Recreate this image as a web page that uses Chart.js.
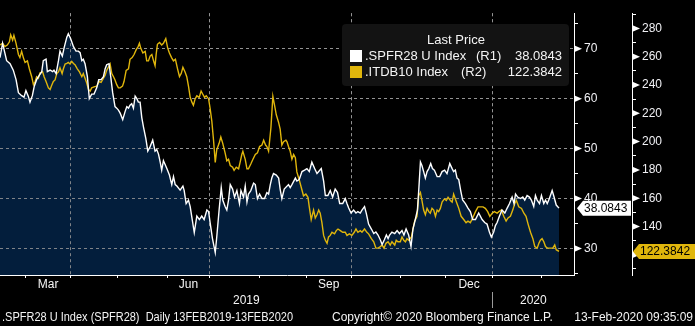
<!DOCTYPE html>
<html>
<head>
<meta charset="utf-8">
<script src="https://cdn.jsdelivr.net/npm/chart.js@4.4.1/dist/chart.umd.min.js"></script>
<style>
  html, body { margin: 0; padding: 0; background: #000; }
  #wrap { width: 695px; height: 326px; }
</style>
</head>
<body>
<div id="wrap"><canvas id="bbChart" width="695" height="326"></canvas></div>
<script>
// weekday index from 13 Feb 2019 (0) to 13 Feb 2020 (261)
const monthStarts = [12, 33, 55, 78, 98, 121, 143, 164, 187, 208, 230, 253];
const quarterLines = [33, 98, 164, 230];
const monthNames = ['Mar', 'Jun', 'Sep', 'Dec'];
const monthSpans = [[12, 33], [78, 98], [143, 164], [208, 230]];
const yearNames = ['2019', '2020'];
const yearSpans = [[0, 230], [230, 268]];

const r1Ticks = [25, 30, 35, 40, 45, 50, 55, 60, 65, 70, 75];
const r2Ticks = [110, 120, 130, 140, 150, 160, 170, 180, 190, 200, 210, 220, 230, 240, 250, 260, 270, 280, 290];

const spfrName = '.SPFR28 U Index';
const itdbName = '.ITDB10 Index';

const spfrDays = [0, 1.2, 3.1, 4.7, 6.2, 7.5, 8.6, 10.1, 11.2, 12.1, 13.2, 14.0, 15.1, 16.0, 17.1, 18.4, 19.5, 20.2, 21.5, 22.1,
  23.4, 24.6, 25.2, 26.2, 27.3, 28.0, 29.1, 29.9, 31.2, 31.9, 33.0, 34.3, 35.5, 36.6, 37.4, 38.2, 38.9, 39.7, 40.8, 41.7,
  42.8, 43.9, 45.2, 46.1, 47.2, 48.3, 49.1, 49.8, 50.9, 51.7, 52.6, 53.7, 54.5, 55.3, 56.1, 57.3, 58.4, 59.2, 60.0, 60.7,
  61.5, 62.3, 63.1, 63.9, 64.6, 65.4, 66.2, 67.0, 68.1, 69.0, 70.1, 71.3, 72.4, 73.2, 74.0, 74.8, 75.5, 76.3, 77.9, 79.1,
  80.2, 81.0, 81.8, 82.6, 84.1, 85.4, 86.0, 86.9, 88.0, 88.8, 89.6, 90.7, 91.9, 93.1, 94.2, 95.3, 96.6, 97.4, 98.1, 99.2,
  100.5, 101.2, 102.3, 103.3, 104.0, 105.1, 105.9, 106.7, 107.5, 108.6, 109.5, 110.6, 111.8, 112.5, 113.7, 114.5, 115.3, 116.0, 117.1, 118.4,
  119.2, 120.2, 121.2, 122.3, 123.5, 124.6, 125.4, 126.2, 126.9, 127.7, 129.0, 130.1, 130.8, 131.6, 132.7, 134.7, 135.5, 136.3, 137.9, 138.6,
  139.7, 141.0, 142.2, 143.3, 144.4, 145.6, 146.9, 148.0, 148.8, 150.0, 151.1, 151.9, 153.1, 154.2, 155.3, 156.5, 157.6, 158.6, 160.0, 161.2,
  162.0, 162.8, 163.9, 165.1, 166.2, 167.1, 168.2, 169.0, 170.2, 171.0, 172.1, 173.4, 174.5, 175.5, 176.5, 177.6, 178.4, 179.4, 180.4, 181.2,
  181.9, 183.0, 184.3, 185.4, 186.5, 187.7, 188.6, 189.6, 190.8, 191.9, 192.8, 193.9, 194.9, 195.5, 196.3, 197.0, 197.8, 198.6, 199.4, 200.2,
  201.1, 201.9, 202.8, 204.1, 205.3, 206.4, 207.6, 208.7, 210.0, 211.1, 211.8, 212.6, 213.4, 214.2, 215.1, 216.0, 217.3, 218.5, 219.6, 220.7,
  222.0, 223.5, 225.1, 226.3, 227.4, 228.5, 229.4, 230.5, 231.3, 232.1, 233.2, 234.4, 235.7, 236.8, 237.9, 239.1, 240.0, 240.7, 241.7, 243.0,
  244.1, 245.0, 246.1, 247.2, 248.1, 249.2, 250.0, 250.8, 251.9, 252.8, 253.9, 254.7, 255.5, 256.5, 257.8, 258.7, 259.7, 261];
const spfrValues = [68.2, 71.1, 67.6, 67.0, 65.7, 63.8, 61.2, 60.6, 60.3, 61.6, 60.5, 59.3, 60.6, 62.5, 63.8, 64.7, 65.4, 67.6, 67.9, 65.4,
  65.7, 65.4, 65.7, 65.0, 67.6, 69.5, 68.5, 70.1, 72.3, 73.0, 72.0, 70.4, 69.5, 69.5, 69.2, 67.6, 67.9, 67.0, 64.4, 60.0,
  60.9, 60.9, 62.2, 63.8, 63.8, 64.4, 66.0, 66.8, 67.0, 64.4, 61.2, 58.4, 58.1, 57.7, 57.1, 55.8, 57.4, 58.4, 58.1, 58.7,
  59.0, 58.1, 60.5, 60.0, 59.3, 59.3, 56.2, 54.3, 52.0, 49.5, 50.4, 51.7, 49.5, 49.8, 48.9, 47.3, 45.7, 47.6, 46.0, 44.7,
  42.8, 44.4, 42.8, 42.5, 41.7, 42.5, 41.6, 39.0, 39.7, 38.4, 36.2, 33.2, 36.5, 35.8, 36.5, 35.8, 37.7, 37.4, 35.2, 32.0,
  29.2, 32.3, 37.7, 42.2, 39.7, 38.4, 37.7, 39.7, 42.8, 41.9, 40.3, 41.6, 39.0, 41.6, 40.3, 42.5, 39.3, 40.9, 41.6, 43.1,
  42.8, 40.0, 40.9, 40.0, 40.0, 41.2, 40.9, 42.8, 44.1, 45.0, 44.7, 44.1, 41.9, 40.0, 41.9, 42.8, 42.2, 42.8, 44.1, 43.5,
  43.8, 45.4, 45.7, 46.0, 45.4, 47.3, 46.0, 45.0, 45.4, 46.0, 43.5, 40.6, 40.6, 41.6, 40.3, 41.9, 41.2, 39.0, 39.0, 40.0,
  39.0, 38.1, 37.1, 37.7, 37.1, 37.4, 37.1, 37.7, 38.4, 37.1, 34.9, 33.9, 33.0, 33.3, 32.7, 31.7, 30.8, 31.7, 32.7, 32.0,
  32.7, 33.3, 33.0, 33.6, 33.0, 33.6, 32.7, 33.9, 32.7, 30.4, 33.9, 35.8, 37.7, 41.6, 47.3, 46.6, 45.4, 44.1, 45.4, 46.0,
  47.0, 46.0, 45.7, 44.4, 44.4, 45.4, 45.7, 45.0, 47.0, 46.0, 45.4, 45.7, 44.1, 43.8, 41.6, 39.7, 39.0, 38.1, 37.4, 35.8,
  35.8, 37.1, 35.8, 35.2, 34.9, 33.3, 32.3, 33.3, 34.6, 35.2, 36.5, 37.7, 37.1, 38.1, 39.0, 40.3, 39.0, 40.9, 40.3, 40.0,
  40.3, 39.7, 40.6, 40.3, 39.7, 38.4, 40.6, 39.7, 39.0, 40.6, 39.0, 39.7, 39.0, 40.0, 41.6, 40.3, 38.7, 38.0843];

const itdbDays = [0, 1.2, 2.3, 3.4, 4.4, 5.0, 5.9, 6.5, 7.5, 8.6, 9.3, 10.1, 10.9, 11.7, 12.8, 13.7, 14.8, 15.6, 16.4, 17.1,
  17.9, 18.7, 19.9, 20.6, 21.5, 22.6, 23.4, 24.1, 24.9, 25.7, 26.5, 27.3, 28.0, 29.0, 29.6, 30.4, 31.2, 31.9, 32.7, 33.5,
  34.3, 35.0, 36.1, 37.1, 38.2, 38.9, 39.7, 40.5, 41.3, 42.1, 42.8, 43.9, 45.2, 46.3, 47.2, 48.3, 49.1, 49.8, 50.6, 51.4,
  52.2, 53.0, 53.7, 54.5, 55.3, 56.1, 57.2, 57.9, 58.9, 60.0, 60.7, 61.7, 62.6, 63.6, 64.5, 65.1, 65.7, 66.7, 67.8, 68.5,
  69.3, 70.1, 70.9, 71.7, 72.4, 72.9, 73.5, 74.5, 75.5, 76.3, 77.4, 78.3, 79.1, 80.1, 81.0, 81.9, 82.9, 83.8, 84.6, 85.4,
  86.4, 87.2, 88.0, 88.8, 89.6, 90.3, 91.1, 91.9, 93.0, 93.9, 94.7, 95.5, 96.3, 97.4, 98.1, 98.9, 99.7, 100.5, 101.2, 102.3,
  103.1, 104.0, 105.1, 105.9, 106.7, 107.5, 108.6, 109.3, 110.3, 111.4, 112.1, 112.9, 113.4, 114.5, 115.3, 116.0, 117.1, 118.1, 119.2, 120.2,
  121.2, 122.3, 123.1, 124.0, 124.6, 125.4, 126.5, 127.4, 128.2, 129.0, 130.1, 130.8, 131.6, 132.4, 133.5, 134.0, 134.7, 135.5, 136.3, 137.1,
  137.9, 138.6, 139.7, 140.7, 141.7, 142.8, 143.8, 144.4, 145.3, 146.4, 147.2, 148.0, 148.8, 149.5, 150.3, 151.1, 151.9, 152.7, 153.4, 154.2,
  155.0, 156.2, 157.0, 157.8, 158.9, 160.0, 161.2, 162.0, 163.1, 164.3, 165.4, 166.2, 167.1, 168.2, 169.0, 170.2, 171.3, 172.1, 173.4, 174.5,
  175.5, 176.5, 177.6, 178.4, 179.3, 180.2, 181.2, 182.2, 183.0, 184.3, 185.0, 185.8, 186.9, 187.7, 188.5, 189.3, 190.0, 190.8, 192.1, 192.8,
  193.6, 194.7, 195.5, 196.3, 197.0, 197.8, 198.6, 199.4, 200.2, 200.9, 201.7, 202.5, 203.3, 204.1, 204.8, 205.6, 206.4, 207.5, 208.4, 209.2,
  210.3, 211.1, 211.8, 212.6, 213.4, 214.2, 215.3, 216.5, 217.6, 218.5, 219.6, 220.7, 222.0, 223.2, 224.3, 225.5, 226.6, 227.7, 228.7, 229.8,
  230.8, 232.1, 232.9, 234.1, 235.2, 236.3, 237.2, 238.3, 239.4, 240.3, 241.1, 242.2, 243.5, 244.6, 245.6, 246.6, 247.7, 248.8, 249.7, 250.8,
  251.6, 252.3, 253.1, 253.9, 254.7, 255.6, 257.0, 258.1, 259.0, 259.7, 261];
const itdbValues = [268.3, 269.5, 267.2, 268.3, 270.6, 275.5, 271.7, 275.1, 269.5, 261.6, 259.4, 263.8, 259.4, 256.0, 257.1, 251.5, 245.9, 240.3, 242.5, 245.9,
  244.8, 248.6, 249.3, 245.9, 242.5, 238.0, 236.9, 239.6, 242.5, 243.6, 248.1, 249.3, 252.2, 248.1, 251.5, 254.9, 255.3, 256.0, 254.9, 256.7,
  255.3, 254.4, 251.5, 249.3, 245.9, 248.1, 244.8, 241.4, 236.9, 235.8, 238.0, 238.7, 239.2, 242.5, 241.9, 244.8, 247.0, 250.4, 252.6, 254.9,
  248.1, 245.9, 243.6, 240.3, 238.0, 238.0, 239.2, 242.5, 250.4, 251.5, 258.2, 259.4, 261.6, 265.0, 267.2, 269.5, 266.1, 262.7, 263.8, 257.1,
  257.1, 260.5, 261.6, 257.1, 253.7, 261.6, 268.8, 270.1, 268.3, 269.5, 272.8, 266.1, 262.7, 259.4, 257.1, 258.2, 251.5, 245.9, 248.1, 252.6,
  249.3, 245.9, 239.2, 231.3, 227.9, 225.7, 230.2, 232.4, 231.3, 235.8, 233.5, 231.3, 232.4, 230.2, 223.5, 214.5, 201.0, 185.3, 194.3, 198.8,
  203.3, 198.8, 192.0, 186.4, 187.5, 183.1, 181.9, 179.7, 181.9, 180.8, 185.3, 190.9, 193.2, 187.5, 180.8, 180.8, 184.2, 187.5, 190.9, 192.0,
  196.5, 197.6, 201.0, 197.6, 196.5, 193.2, 210.0, 232.0, 225.7, 219.0, 213.4, 208.9, 197.6, 199.9, 201.0, 199.9, 196.5, 193.2, 187.5, 190.9,
  188.7, 178.6, 173.0, 167.4, 161.7, 162.9, 160.6, 153.9, 144.9, 151.6, 146.0, 148.3, 151.6, 149.4, 142.7, 133.7, 130.3, 128.1, 132.6, 133.7,
  135.9, 134.8, 137.1, 138.2, 137.1, 135.9, 135.9, 133.7, 134.8, 133.7, 135.9, 138.2, 135.9, 137.1, 135.9, 138.2, 135.9, 134.8, 131.4, 129.2,
  124.7, 124.7, 125.8, 126.9, 124.7, 128.1, 129.2, 126.9, 129.2, 126.9, 130.3, 129.2, 129.2, 132.6, 130.3, 129.2, 131.4, 130.3, 132.6, 138.2,
  143.8, 147.2, 161.7, 164.0, 158.4, 151.6, 148.3, 152.8, 150.5, 149.4, 152.8, 151.6, 147.2, 151.6, 150.5, 152.8, 157.3, 159.5, 158.4, 160.6,
  158.4, 157.3, 162.9, 159.5, 156.1, 152.8, 147.2, 144.9, 142.7, 143.8, 142.7, 146.0, 150.5, 153.9, 153.9, 153.9, 152.8, 150.5, 147.2, 149.4,
  150.5, 149.4, 150.5, 151.6, 147.2, 143.8, 146.0, 147.2, 151.6, 156.1, 158.4, 153.9, 152.8, 149.4, 147.2, 141.5, 135.9, 131.4, 125.8, 124.7,
  128.1, 130.3, 131.4, 129.2, 125.8, 124.7, 124.7, 124.7, 126.9, 123.6, 122.3842];

const WHITE = '#ffffff';
const YELLOW = '#e0b60c';
const NAVY = '#031e3c';
const GRID = 'rgba(150,150,150,0.85)';
const FONT = 'Liberation Sans';

const toPoints = (xs, ys) => xs.map((x, i) => ({ x: x, y: ys[i] }));
const spfrPoints = toPoints(spfrDays, spfrValues);
const itdbPoints = toPoints(itdbDays, itdbValues);

// gridlines go back on top of the navy fill
const gridOverFill = {
  id: 'gridOverFill',
  afterDatasetDraw(chart, args) {
    if (args.index !== 0) return;
    chart.scales.x.drawGrid(chart.chartArea);
    chart.scales.r1.drawGrid(chart.chartArea);
  }
};

const bbDecor = {
  id: 'bbDecor',
  afterDraw(chart) {
    const ctx = chart.ctx;
    const x = chart.scales.x, r1 = chart.scales.r1, r2 = chart.scales.r2;
    ctx.save();

    // major tick arrows
    ctx.fillStyle = WHITE;
    const arrow = (ax, ay) => {
      ctx.beginPath();
      ctx.moveTo(ax, ay - 3.5);
      ctx.lineTo(ax + 8, ay);
      ctx.lineTo(ax, ay + 3.5);
      ctx.closePath();
      ctx.fill();
    };
    r1Ticks.filter(v => v % 10 === 0).forEach(v => arrow(r1.left, r1.getPixelForValue(v)));
    r2Ticks.filter(v => v % 20 === 0).forEach(v => arrow(r2.left, r2.getPixelForValue(v)));

    // month / year labels
    ctx.fillStyle = '#f4f4f4';
    ctx.font = '12px "' + FONT + '"';
    ctx.textAlign = 'center';
    ctx.textBaseline = 'middle';
    monthNames.forEach((m, i) => {
      const px = (x.getPixelForValue(monthSpans[i][0]) + x.getPixelForValue(monthSpans[i][1])) / 2;
      ctx.fillText(m, px, 285);
    });
    yearNames.forEach((yr, i) => {
      const px = (x.getPixelForValue(yearSpans[i][0]) + x.getPixelForValue(yearSpans[i][1])) / 2;
      ctx.fillText(yr, px, 301);
    });
    const sepX = Math.round(x.getPixelForValue(yearSpans[1][0])) - 0.5;
    ctx.strokeStyle = '#9a9a9a';
    ctx.lineWidth = 1;
    ctx.beginPath();
    ctx.moveTo(sepX, 292);
    ctx.lineTo(sepX, 308);
    ctx.stroke();

    // footer
    ctx.textAlign = 'left';
    ctx.fillText(spfrName + ' (SPFR28)  Daily 13FEB2019-13FEB2020', 2, 318, 291);
    ctx.fillText('Copyright\u00a9 2020 Bloomberg Finance L.P.', 332, 318);
    ctx.textAlign = 'right';
    ctx.fillText('13-Feb-2020 09:35:09', 693, 318);

    // last value flags
    const lastSpfr = spfrValues[spfrValues.length - 1];
    const lastItdb = itdbValues[itdbValues.length - 1];
    const flag = (left, right, fy, color, text) => {
      ctx.fillStyle = color;
      ctx.beginPath();
      ctx.moveTo(left, fy);
      ctx.lineTo(left + 6, fy - 7.5);
      ctx.lineTo(right, fy - 7.5);
      ctx.lineTo(right, fy + 7.5);
      ctx.lineTo(left + 6, fy + 7.5);
      ctx.closePath();
      ctx.fill();
      ctx.fillStyle = '#000';
      ctx.textAlign = 'left';
      ctx.font = '12px "' + FONT + '"';
      ctx.fillText(text, left + 7, fy + 0.5);
    };
    flag(r1.left + 3, r2.left - 1, r1.getPixelForValue(lastSpfr), WHITE, lastSpfr.toFixed(4));
    flag(r2.left + 1, chart.width, r2.getPixelForValue(lastItdb), YELLOW, lastItdb.toFixed(4));

    // legend box
    ctx.fillStyle = '#131313';
    ctx.beginPath();
    ctx.roundRect(342, 24, 227, 62, 4);
    ctx.fill();
    ctx.font = '13px "' + FONT + '"';
    ctx.fillStyle = '#f4f4f4';
    ctx.textAlign = 'center';
    ctx.fillText('Last Price', 456, 40);
    const rows = [
      [WHITE, spfrName, '(R1)', lastSpfr.toFixed(4), 56],
      [YELLOW, itdbName, '(R2)', lastItdb.toFixed(4), 72]
    ];
    rows.forEach(r => {
      ctx.fillStyle = r[0];
      ctx.fillRect(350, r[4] - 6, 12, 12);
      ctx.fillStyle = '#f4f4f4';
      ctx.textAlign = 'left';
      ctx.fillText(r[1], 365, r[4]);
      ctx.fillText(r[2], r[2] === '(R1)' ? 476 : 461, r[4]);
      ctx.textAlign = 'right';
      ctx.fillText(r[3], 562, r[4]);
    });
    ctx.restore();
  }
};

const tickFont = { family: FONT, size: 12 };

new Chart(document.getElementById('bbChart'), {
  type: 'line',
  data: {
    datasets: [
      { data: spfrPoints, yAxisID: 'r1', borderWidth: 0, pointRadius: 0, fill: 'start', backgroundColor: NAVY, order: 3 },
      { label: itdbName, data: itdbPoints, yAxisID: 'r2', borderColor: YELLOW, borderWidth: 1.4, pointRadius: 0, fill: false, tension: 0, order: 2 },
      { label: spfrName, data: spfrPoints, yAxisID: 'r1', borderColor: WHITE, borderWidth: 1.4, pointRadius: 0, fill: false, tension: 0, order: 1 }
    ]
  },
  options: {
    responsive: false,
    animation: false,
    events: [],
    layout: { padding: 0 },
    plugins: { legend: { display: false }, tooltip: { enabled: false }, filler: { propagate: false } },
    scales: {
      x: {
        type: 'linear', position: 'bottom', min: 0, max: 268,
        afterBuildTicks: s => { s.ticks = monthStarts.map(v => ({ value: v })); },
        afterFit: s => { s.height = 51; },
        ticks: { display: false },
        grid: {
          color: c => (c.tick && quarterLines.includes(c.tick.value)) ? GRID : 'rgba(0,0,0,0)',
          tickColor: WHITE, tickLength: 3, tickBorderDash: [], lineWidth: 1
        },
        border: { color: WHITE, width: 1, dash: [3, 3] }
      },
      r1: {
        type: 'linear', position: 'right', min: 24.7, max: 77.1,
        afterBuildTicks: s => { s.ticks = r1Ticks.map(v => ({ value: v })); },
        afterFit: s => { s.width = 58; },
        ticks: { autoSkip: false, padding: 6, color: '#f0f0f4', font: tickFont, callback: v => (v % 10 === 0 ? v : '') },
        grid: {
          color: c => (c.tick && c.tick.value % 10 === 0) ? GRID : 'rgba(0,0,0,0)',
          tickColor: WHITE, tickLength: 4, tickBorderDash: [], lineWidth: 1
        },
        border: { color: WHITE, width: 1, dash: [3, 3] }
      },
      r2: {
        type: 'linear', position: 'right', min: 105.7, max: 290.8,
        afterBuildTicks: s => { s.ticks = r2Ticks.map(v => ({ value: v })); },
        afterFit: s => { s.width = 63; },
        ticks: { autoSkip: false, padding: 6, color: '#f0f0f4', font: tickFont, callback: v => (v % 20 === 0 ? v : '') },
        grid: { drawOnChartArea: false, tickColor: WHITE, tickLength: 4, tickBorderDash: [] },
        border: { color: WHITE, width: 1 }
      }
    }
  },
  plugins: [gridOverFill, bbDecor]
});
</script>
</body>
</html>
